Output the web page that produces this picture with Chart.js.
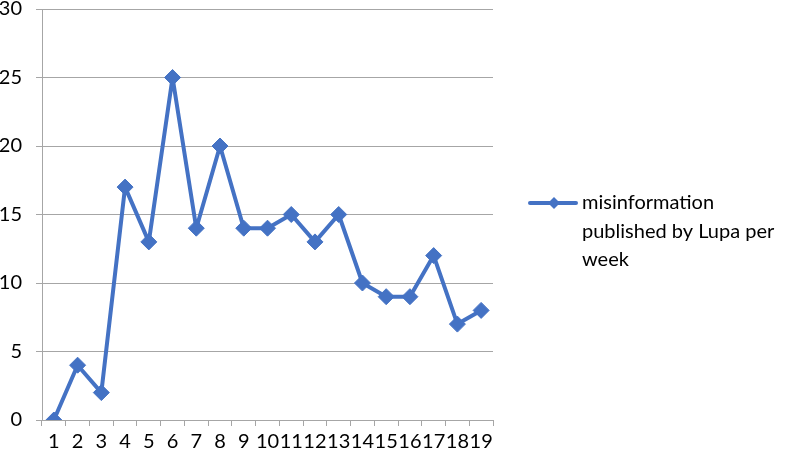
<!DOCTYPE html>
<html>
<head>
<meta charset="utf-8">
<script src="https://cdn.jsdelivr.net/npm/chart.js@4/dist/chart.umd.min.js"></script>
<style>
  html, body { margin: 0; padding: 0; background: #fff; }
  #wrap { width: 787px; height: 458px; position: relative; }
</style>
</head>
<body>
<div id="wrap"><canvas id="chart" width="787" height="458"></canvas></div>
<script>
const weeks = ['1','2','3','4','5','6','7','8','9','10','11','12','13','14','15','16','17','18','19'];
const misinfo = [0, 4, 2, 17, 13, 25, 14, 20, 14, 14, 15, 13, 15, 10, 9, 9, 12, 7, 8];
const yTicks = [0, 5, 10, 15, 20, 25, 30];
const legendLines = ['misinformation', 'published by Lupa per', 'week'];

const blue = '#4472C4';
const gridColor = '#A6A6A6';
const fontFamily = 'Lato, "Open Sans", sans-serif';

// draw the wrapped legend on the right, Chart.js legend can't wrap
const sideLegend = {
  id: 'sideLegend',
  afterDraw(chart) {
    const ctx = chart.ctx;
    const x0 = 530, y0 = 203;
    ctx.save();
    ctx.strokeStyle = blue;
    ctx.lineWidth = 4;
    ctx.lineCap = 'round';
    ctx.beginPath();
    ctx.moveTo(x0, y0);
    ctx.lineTo(x0 + 46, y0);
    ctx.stroke();
    ctx.fillStyle = blue;
    ctx.beginPath();
    ctx.moveTo(x0 + 24, y0 - 6);
    ctx.lineTo(x0 + 30, y0);
    ctx.lineTo(x0 + 24, y0 + 6);
    ctx.lineTo(x0 + 18, y0);
    ctx.closePath();
    ctx.fill();
    ctx.fillStyle = '#000';
    ctx.font = '20px ' + fontFamily;
    ctx.textBaseline = 'middle';
    legendLines.forEach((t, i) => ctx.fillText(t, x0 + 52, y0 + i * 28.5));
    ctx.restore();
  }
};

new Chart(document.getElementById('chart'), {
  type: 'line',
  data: {
    labels: weeks,
    datasets: [{
      label: legendLines.join(' '),
      data: misinfo,
      borderColor: blue,
      backgroundColor: blue,
      borderWidth: 4,
      borderJoinStyle: 'round',
      pointStyle: 'rectRot',
      pointRadius: 8,
      pointBorderWidth: 1,
      pointHoverRadius: 8,
      tension: 0
    }]
  },
  options: {
    responsive: false,
    animation: false,
    layout: { padding: { left: 0, right: 294, top: 0, bottom: 0 } },
    plugins: { legend: { display: false }, tooltip: { enabled: false } },
    scales: {
      x: {
        offset: true,
        grid: { offset: true, drawOnChartArea: false, drawTicks: true, tickLength: 6, color: gridColor },
        border: { color: gridColor, width: 1 },
        ticks: { autoSkip: false, maxRotation: 0, color: '#000', padding: 4, font: { family: fontFamily, size: 20 } },
        afterFit(s) { s.height = 38; s.paddingLeft = 0; s.paddingRight = 0; }
      },
      y: {
        min: 0, max: 30,
        afterBuildTicks(s) { s.ticks = yTicks.map(v => ({ value: v })); },
        grid: { color: gridColor, tickLength: 6 },
        border: { color: gridColor, width: 1 },
        ticks: { color: '#000', padding: 14, font: { family: fontFamily, size: 20 } },
        afterFit(s) { s.width = 42; s.paddingTop = 0; s.paddingBottom = 0; }
      }
    }
  },
  plugins: [sideLegend]
});
</script>
</body>
</html>
